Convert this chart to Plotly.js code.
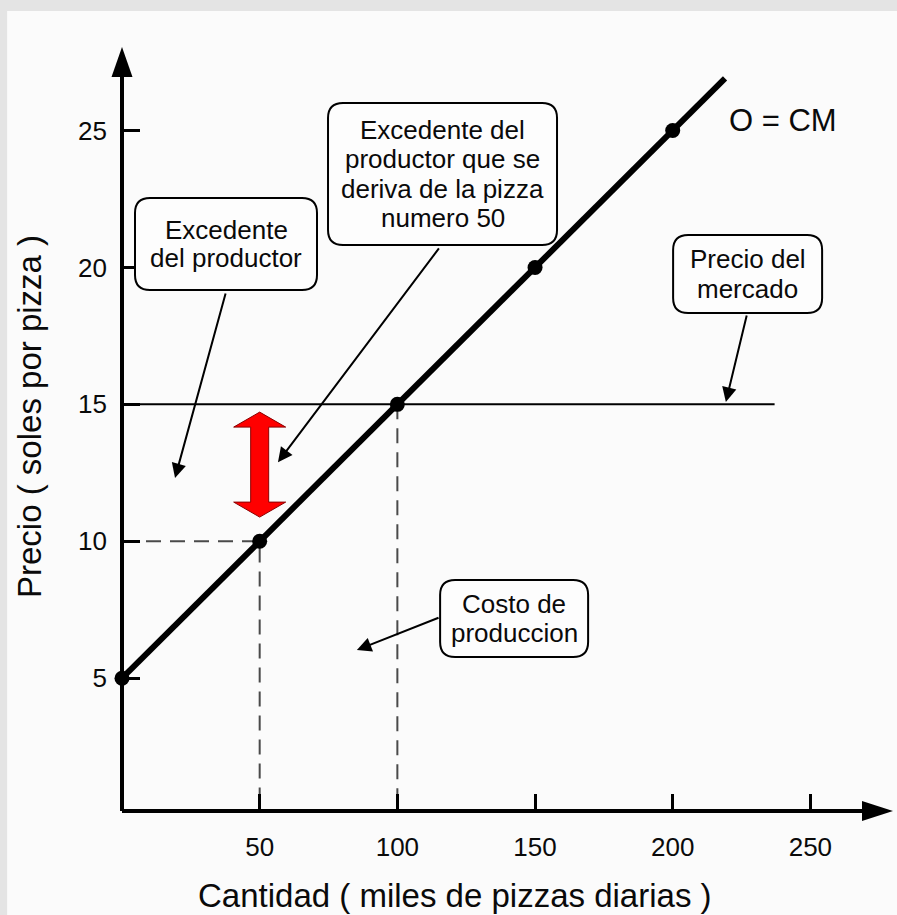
<!DOCTYPE html>
<html><head><meta charset="utf-8">
<script src="https://cdn.plot.ly/plotly-3.0.1.min.js"></script>
<style>html,body{margin:0;padding:0;background:#e4e4e4;} #chart{width:897px;height:915px;}</style>
</head><body><div id="chart"></div>
<script>
// ---- data ----
const quantities = [0, 50, 100, 150, 200];      // miles de pizzas diarias
const prices = [5, 10, 15, 20, 25];             // soles por pizza
const curveEndQ = 219;
const curveEndP = 26.9;
const marketPrice = 15;
const marketLineEndQ = 237;
const pizzaQ = 50;          // pizza numero 50
const pizzaCost = 10;
const equilibriumQ = 100;
const xTicks = [50, 100, 150, 200, 250];
const yTicks = [5, 10, 15, 20, 25];
const xTitle = 'Cantidad ( miles de pizzas diarias )';
const yTitle = 'Precio ( soles por pizza )';
const curveLabel = 'O = CM';

// ---- style / layout helpers ----
const FONT = 'Liberation Sans, Arial, Helvetica, sans-serif';
const TXT = '#0a0a0a';
const xRange = [0, 280];
const yRange = [0.15, 28.05];

const callouts = [
  {lines: ['Excedente', 'del productor'], cq: 37.77, cp: 20.86, w: 182, h: 92, sp: 28,
   tail: [37.77, 19.10], tip: [19.25, 12.31]},
  {lines: ['Excedente del', 'productor que se', 'deriva de la pizza', 'numero 50'], cq: 116.4, cp: 23.41, w: 229, h: 142, sp: 29.5,
   tail: [115.5, 20.75], tip: [56.65, 12.89]},
  {lines: ['Precio del', 'mercado'], cq: 227.2, cp: 19.76, w: 149, h: 78, sp: 30,
   tail: [227.0, 18.30], tip: [219.3, 15.09]},
  {lines: ['Costo de', 'produccion'], cq: 142.4, cp: 7.18, w: 148, h: 77, sp: 29,
   tail: [115.5, 7.23], tip: [85.3, 6.03]}
];

function roundRect(w, h, r) {
  const a = w / 2, b = h / 2;
  return `M${-a + r},${b} L${a - r},${b} Q${a},${b} ${a},${b - r} L${a},${-b + r} Q${a},${-b} ${a - r},${-b} ` +
         `L${-a + r},${-b} Q${-a},${-b} ${-a},${-b + r} L${-a},${b - r} Q${-a},${b} ${-a + r},${b} Z`;
}

// ---- traces ----
const traces = [
  {x: [0, marketLineEndQ], y: [marketPrice, marketPrice], mode: 'lines',
   line: {color: '#000', width: 2}, hoverinfo: 'skip'},
  {x: [0, pizzaQ, pizzaQ], y: [pizzaCost, pizzaCost, 0], mode: 'lines',
   line: {color: '#4a4a4a', width: 2, dash: '15px,9px'}, hoverinfo: 'skip'},
  {x: [equilibriumQ, equilibriumQ], y: [marketPrice, 0], mode: 'lines',
   line: {color: '#4a4a4a', width: 2, dash: '15px,9px'}, hoverinfo: 'skip'},
  {x: quantities.concat([curveEndQ]), y: prices.concat([curveEndP]), mode: 'lines',
   line: {color: '#000', width: 6}, hoverinfo: 'skip'},
  {x: quantities, y: prices, mode: 'markers', cliponaxis: false,
   marker: {color: '#000', size: 15}, hoverinfo: 'skip'}
];

// ---- shapes ----
const shapes = [
  {type: 'rect', xref: 'paper', yref: 'paper', x0: -0.149, x1: 1.02, y0: -0.15, y1: 1.047,
   fillcolor: '#fbfbfb', line: {width: 0}, layer: 'below'},
  // axis lines
  {type: 'line', xref: 'paper', yref: 'paper', x0: 0, x1: 0, y0: 0, y1: 0.97, line: {color: '#000', width: 4}, layer: 'above'},
  {type: 'line', xref: 'paper', yref: 'paper', x0: 0, x1: 0.97, y0: 0, y1: 0, line: {color: '#000', width: 4}, layer: 'above'},
  // axis arrowheads
  {type: 'path', xref: 'paper', yref: 'paper', xsizemode: 'pixel', ysizemode: 'pixel', xanchor: 0, yanchor: 1,
   path: 'M0,0 L-10.5,-30 L10.5,-30 Z', fillcolor: '#000', line: {width: 0}, layer: 'above'},
  {type: 'path', xref: 'paper', yref: 'paper', xsizemode: 'pixel', ysizemode: 'pixel', xanchor: 1, yanchor: 0,
   path: 'M0,0 L-31,10 L-31,-10 Z', fillcolor: '#000', line: {width: 0}, layer: 'above'},
  // red double arrow (producer surplus of pizza 50)
  {type: 'path', xref: 'x', yref: 'y', xsizemode: 'pixel', ysizemode: 'pixel', xanchor: pizzaQ, yanchor: 12.8,
   path: 'M0,52.5 L26,37.5 L9,37.5 L9,-37.5 L26,-37.5 L0,-52.5 L-26,-37.5 L-9,-37.5 L-9,37.5 L-26,37.5 Z',
   fillcolor: '#ff0000', line: {color: '#8a0000', width: 1}, layer: 'above'}
];
callouts.forEach(c => {
  shapes.push({type: 'path', xref: 'x', yref: 'y', xsizemode: 'pixel', ysizemode: 'pixel',
    xanchor: c.cq, yanchor: c.cp, path: roundRect(c.w, c.h, 15),
    fillcolor: '#fdfdfd', line: {color: '#000', width: 2}, layer: 'above'});
});

// ---- annotations ----
const annotations = [];
callouts.forEach(c => {
  const n = c.lines.length;
  c.lines.forEach((t, i) => {
    annotations.push({x: c.cq, y: c.cp, xref: 'x', yref: 'y', text: t, showarrow: false,
      xanchor: 'center', yanchor: 'middle', yshift: ((n - 1) / 2 - i) * c.sp,
      font: {family: FONT, size: 26, color: TXT}});
  });
  annotations.push({x: c.tip[0], y: c.tip[1], ax: c.tail[0], ay: c.tail[1], xref: 'x', yref: 'y',
    axref: 'x', ayref: 'y', text: '', showarrow: true, arrowhead: 2, arrowsize: 1.45, arrowwidth: 2,
    arrowcolor: '#000', standoff: 0, startstandoff: 0});
});
annotations.push({x: 240.05, y: 25.38, xref: 'x', yref: 'y', text: curveLabel, showarrow: false,
  font: {family: FONT, size: 31, color: TXT}});
annotations.push({x: 0.432, y: -0.11, xref: 'paper', yref: 'paper', text: xTitle, showarrow: false,
  xanchor: 'center', yanchor: 'middle', font: {family: FONT, size: 33, color: TXT}});
annotations.push({x: -0.1206, y: 0.5157, xref: 'paper', yref: 'paper', text: yTitle, showarrow: false,
  textangle: -90, xanchor: 'center', yanchor: 'middle', font: {family: FONT, size: 33, color: TXT}});

const axisCommon = {showgrid: false, zeroline: false, showline: false, ticks: 'inside', tickwidth: 3,
  tickcolor: '#000', tickfont: {family: FONT, size: 26, color: TXT}, fixedrange: true};

const layout = {
  width: 897, height: 915,
  margin: {l: 122, r: 4, t: 47, b: 104},
  paper_bgcolor: '#e4e4e4', plot_bgcolor: 'rgba(0,0,0,0)',
  showlegend: false,
  xaxis: Object.assign({}, axisCommon, {range: xRange, tickvals: xTicks, ticktext: xTicks.map(String),
    ticklen: 17, ticklabelstandoff: 18}),
  yaxis: Object.assign({}, axisCommon, {range: yRange, tickvals: yTicks, ticktext: yTicks.map(String),
    ticklen: 18, ticklabelstandoff: 14}),
  shapes: shapes,
  annotations: annotations
};

Plotly.newPlot('chart', traces, layout, {displayModeBar: false, staticPlot: true});
</script>
</body></html>
